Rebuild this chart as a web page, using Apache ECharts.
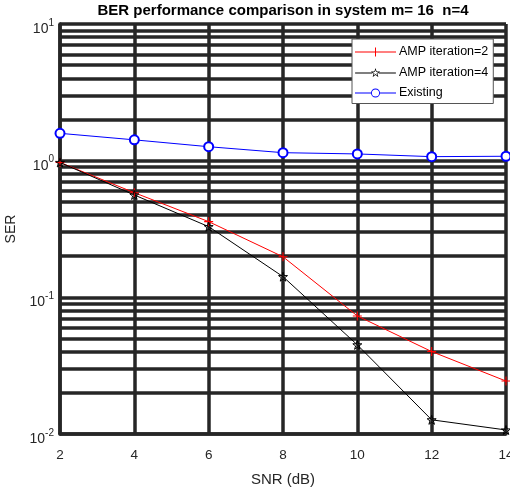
<!DOCTYPE html>
<html><head><meta charset="utf-8">
<script src="https://cdn.jsdelivr.net/npm/echarts@6/dist/echarts.min.js"></script>
<style>html,body{margin:0;padding:0;background:#fff}#c{width:510px;height:492px}</style>
</head><body><div id="c"></div>
<script>
const snr = [2, 4, 6, 8, 10, 12, 14];
const amp2 = [0.97, 0.583, 0.358, 0.198, 0.0731, 0.0401, 0.0244];
const amp4 = [0.97, 0.561, 0.329, 0.1417, 0.0449, 0.0127, 0.0107];
const existing = [1.585, 1.42, 1.265, 1.144, 1.12, 1.07, 1.077];
const seriesNames = ['AMP iteration=2', 'AMP iteration=4', 'Existing'];
const seriesColors = ['#ff0000', '#000000', '#0000ff'];
const xTicks = [2, 4, 6, 8, 10, 12, 14];
const yDecades = [0.01, 0.1, 1, 10];
const minorMultipliers = [2, 3, 4, 5, 6, 7, 8, 9];
const titleText = 'BER performance comparison in system m= 16  n=4';

const minorGrid = [];
yDecades.slice(0, -1).forEach(d => minorMultipliers.forEach(m => minorGrid.push(+(d * m).toPrecision(3))));

const gridColor = '#262626';
const gw = 3.5;
const font = 'Liberation Sans, Arial, sans-serif';
const plusPath = 'path://M4.4,0h1.2v10h-1.2z M0,4.4h10v1.2h-10z';
const starPath = 'path://M10,0 L12.245,6.91 L19.51,6.91 L13.63,11.18 L15.88,18.09 L10,13.82 L4.12,18.09 L6.37,11.18 L0.49,6.91 L7.755,6.91 Z';
const symbols = [plusPath, starPath, 'emptyCircle'];
const itemStyles = [
  {color: '#ff0000', borderColor: '#ff0000', borderWidth: 0},
  {color: 'rgba(0,0,0,0)', borderColor: '#000', borderWidth: 1},
  {color: '#0000ff', borderColor: '#0000ff', borderWidth: 1}
];
// legend icons: line sample + marker, drawn in a 41x9 box
const legendIcons = [
  'path://M0,4h41v1h-41z M20,0h1v9h-1z',
  'path://M0,4.5h17.3v1h-17.3z M23.7,4.5h17.3v1h-17.3z ' +
    'M20.5,0 L21.623,3.455 L25.255,3.455 L22.316,5.59 L23.439,9.045 L20.5,6.91 L17.561,9.045 L18.684,5.59 L15.745,3.455 L19.377,3.455 Z ' +
    'M20.5,2 L19.826,4.073 L17.647,4.073 L19.41,5.354 L18.737,7.427 L20.5,6.146 L22.263,7.427 L21.59,5.354 L23.353,4.073 L21.174,4.073 Z',
  'path://M0,4h16.2v1h-16.2z M24.8,4h16.2v1h-16.2z ' +
    'M25,4.5 A4.5,4.5 0 1,1 16,4.5 A4.5,4.5 0 1,1 25,4.5 Z M24.1,4.5 A3.6,3.6 0 1,0 16.9,4.5 A3.6,3.6 0 1,0 24.1,4.5 Z'
];

const chart = echarts.init(document.getElementById('c'), null, {renderer: 'canvas'});
chart.setOption({
  animation: false,
  backgroundColor: '#fff',
  title: {
    text: titleText, left: 283, textAlign: 'center', top: 3, padding: 0,
    textStyle: {fontFamily: font, fontSize: 15, fontWeight: 'bold', color: '#000'}
  },
  legend: {
    z: 30,
    data: seriesNames.map((n, i) => ({
      name: n,
      icon: legendIcons[i],
      itemStyle: {color: seriesColors[i], borderWidth: 0}
    })),
    orient: 'vertical', left: 352, top: 39,
    padding: [6.5, 5, 4, 3], itemWidth: 41, itemHeight: 9, itemGap: 7.5,
    backgroundColor: '#fff', borderColor: '#555', borderWidth: 1,
    textStyle: {fontFamily: font, fontSize: 12.5, color: '#000', padding: [0, 0, 0, -2]}
  },
  grid: {left: 60, right: 4, top: 24, bottom: 58, containLabel: false, outerBoundsMode: 'none'},
  xAxis: {
    type: 'value', min: 2, max: 14, interval: 2,
    name: 'SNR (dB)', nameLocation: 'middle', nameGap: 38,
    nameTextStyle: {fontFamily: font, fontSize: 15, color: '#262626'},
    axisLine: {show: true, lineStyle: {color: gridColor, width: gw}},
    axisTick: {show: false},
    axisLabel: {margin: 14, fontFamily: font, fontSize: 13.5, color: '#262626',
      formatter: v => xTicks.includes(v) ? String(v) : ''},
    splitLine: {show: true, lineStyle: {color: gridColor, width: gw}}
  },
  yAxis: {
    type: 'log', logBase: 10, min: 0.01, max: 10,
    name: 'SER', nameLocation: 'middle', nameGap: 38, nameRotate: 90,
    nameTextStyle: {fontFamily: font, fontSize: 14, color: '#262626'},
    axisLine: {show: true, lineStyle: {color: gridColor, width: gw}},
    axisTick: {show: false},
    axisLabel: {
      margin: 6, padding: [6, 0, 0, 0],
      formatter: v => '{b|10}{s|' + Math.round(Math.log10(v)) + '}',
      rich: {
        b: {fontFamily: font, fontSize: 14, color: '#262626', verticalAlign: 'bottom', lineHeight: 18},
        s: {fontFamily: font, fontSize: 10, color: '#262626', verticalAlign: 'top', lineHeight: 18}
      }
    },
    splitLine: {show: true, lineStyle: {color: gridColor, width: gw}}
  },
  series: [
    {
      name: 'minorGrid', type: 'line', data: [], silent: true, z: 1,
      markLine: {
        silent: true, symbol: ['none', 'none'], label: {show: false}, animation: false,
        lineStyle: {color: gridColor, width: gw, type: 'solid'},
        emphasis: {disabled: true},
        data: minorGrid.map(v => ({yAxis: v}))
      }
    }
  ].concat([amp2, amp4, existing].map((vals, i) => ({
    name: seriesNames[i], type: 'line', z: 5,
    data: snr.map((x, j) => [x, vals[j]]),
    symbol: symbols[i], symbolSize: 9,
    lineStyle: {color: seriesColors[i], width: 1},
    itemStyle: itemStyles[i]
  })))
});
</script></body></html>
